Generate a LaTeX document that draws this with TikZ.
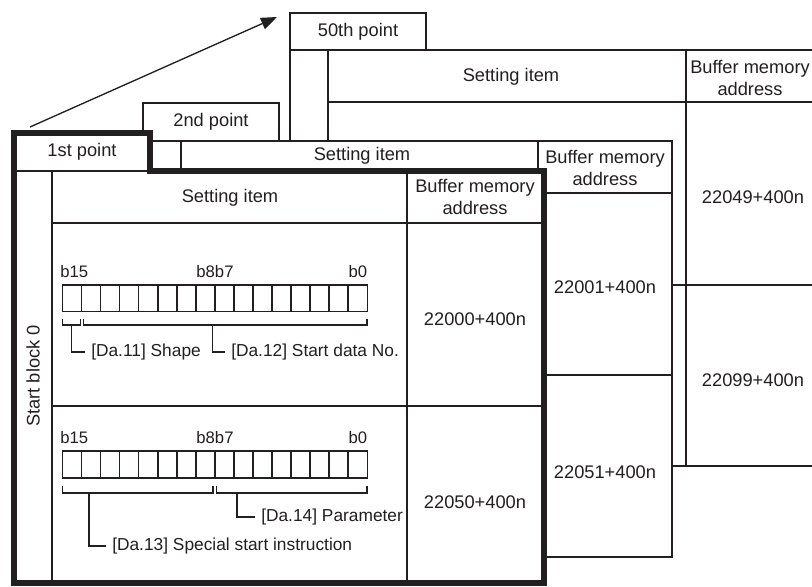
\documentclass[tikz,border=0pt]{standalone}
\usepackage{fontspec}
\setmainfont{Liberation Sans}
\usetikzlibrary{arrows.meta}
\definecolor{ink}{HTML}{231F20}
\begin{document}
\begin{tikzpicture}[x=0.75pt,y=-0.75pt,
  thin/.style={draw=ink,line width=1pt},
  outer/.style={draw=ink,line width=1.5pt,fill=white},
  heavy/.style={draw=ink,line width=4.5pt,line join=miter},
  txt/.style={inner sep=0pt,font=\fontsize{13.7}{16.5}\selectfont,text=ink,align=center},
  lbl/.style={inner sep=4.5pt,font=\fontsize{13}{15}\selectfont,text=ink,anchor=west},
  bitl/.style={inner sep=0pt,font=\fontsize{12.5}{14}\selectfont,text=ink},
  bitbox/.style={draw=ink,line width=1pt,fill=white},
  brk/.style={draw=ink,line width=1pt}]
\useasboundingbox (0,0) rectangle (812,586);
\clip (0,0) rectangle (812,586);
% ---------- back table (50th point)
\draw[outer] (290,13) rectangle (426,50);
\draw[outer] (290,50) rectangle (840,466);
\draw[thin] (328,50) -- (328,466);
\draw[thin] (328,102) -- (840,102);
\draw[thin] (686,50) -- (686,466);
\draw[thin] (328,285) -- (840,285);
\node[txt] (p50) at (358,32) {50th point};
\node[txt] (s50) at (511,77) {Setting item};
\node[txt] (b50) at (750,78) {Buffer memory\\address};
\node[txt] (a49) at (753,197) {22049+400n};
\node[txt] (a99) at (753,380) {22099+400n};
% ---------- middle table (2nd point)
\draw[outer] (143,103) rectangle (279,141);
\draw[outer] (143,141) rectangle (672,557);
\draw[thin] (181,141) -- (181,557);
\draw[thin] (181,193) -- (672,193);
\draw[thin] (538,141) -- (538,557);
\draw[thin] (181,375) -- (672,375);
\node[txt] (p2) at (211,122) {2nd point};
\node[txt] (s2) at (362,156) {Setting item};
\node[txt] (b2) at (605,168) {Buffer memory\\address};
\node[txt] (a01) at (605,287) {22001+400n};
\node[txt] (a51) at (605,472) {22051+400n};
% ---------- front table (1st point)
\fill[white] (14,133) -- (150,133) -- (150,171) -- (544,171) -- (544,583) -- (14,583) -- cycle;
\draw[thin] (14,171) -- (150,171);
\draw[thin] (52,171) -- (52,583);
\draw[thin] (52,223) -- (544,223);
\draw[thin] (407,171) -- (407,583);
\draw[thin] (52,406) -- (544,406);
\draw[heavy] (14,133) -- (150,133) -- (150,171) -- (544,171) -- (544,583) -- (14,583) -- cycle;
\node[txt] (p1) at (82,152) {1st point};
\node[txt,rotate=90] (sb) at (33,376) {Start block 0};
\node[txt] (s1) at (230,198) {Setting item};
\node[txt] (b1) at (475,197) {Buffer memory\\address};
\node[txt] (a00) at (475,319) {22000+400n};
\node[txt] (a50) at (475,502) {22050+400n};
% ---------- bit field row 1
\foreach \i in {0,...,15} {
  \draw[bitbox] ({62.7+19.03*\i},285) rectangle ({62.7+19.03*(\i+1)},311.7);
}
\node[bitl,anchor=west] (r1b15) at (60,272) {b15};
\node[bitl] (r1b8) at (215,272) {b8b7};
\node[bitl,anchor=east] (r1b0) at (367.5,272) {b0};
\draw[brk] (62.7,319) -- (62.7,325) -- (80.7,325) -- (80.7,319);
\draw[brk] (83.3,319) -- (83.3,325) -- (367,325) -- (367,319);
\coordinate (k11) at (71.7,325);
\coordinate (k12) at (212.7,325);
\node[lbl] (da11) at (85,352) {[Da.11] Shape};
\node[lbl] (da12) at (225,352) {[Da.12] Start data No.};
\draw[brk] (k11) |- (da11.west);
\draw[brk] (k12) |- (da12.west);
% ---------- bit field row 2
\foreach \i in {0,...,15} {
  \draw[bitbox] ({62.7+19.03*\i},451) rectangle ({62.7+19.03*(\i+1)},478);
}
\node[bitl,anchor=west] (r2b15) at (60,438) {b15};
\node[bitl] (r2b8) at (215,438) {b8b7};
\node[bitl,anchor=east] (r2b0) at (367.5,438) {b0};
\draw[brk] (62.7,486) -- (62.7,493) -- (213,493) -- (213,486);
\draw[brk] (216.5,486) -- (216.5,493) -- (367,493) -- (367,486);
\coordinate (k13) at (89,493);
\coordinate (k14) at (237,493);
\node[lbl] (da14) at (255,517) {[Da.14] Parameter};
\node[lbl] (da13) at (106,546) {[Da.13] Special start instruction};
\draw[brk] (k14) |- (da14.west);
\draw[brk] (k13) |- (da13.west);
% ---------- arrow
\coordinate (arrS) at (30,127);
\coordinate (arrE) at (277,17);
\draw[draw=ink,line width=1pt,-{Triangle[length=12pt,width=9pt]}] (arrS) -- (arrE);
\end{tikzpicture}
\end{document}
